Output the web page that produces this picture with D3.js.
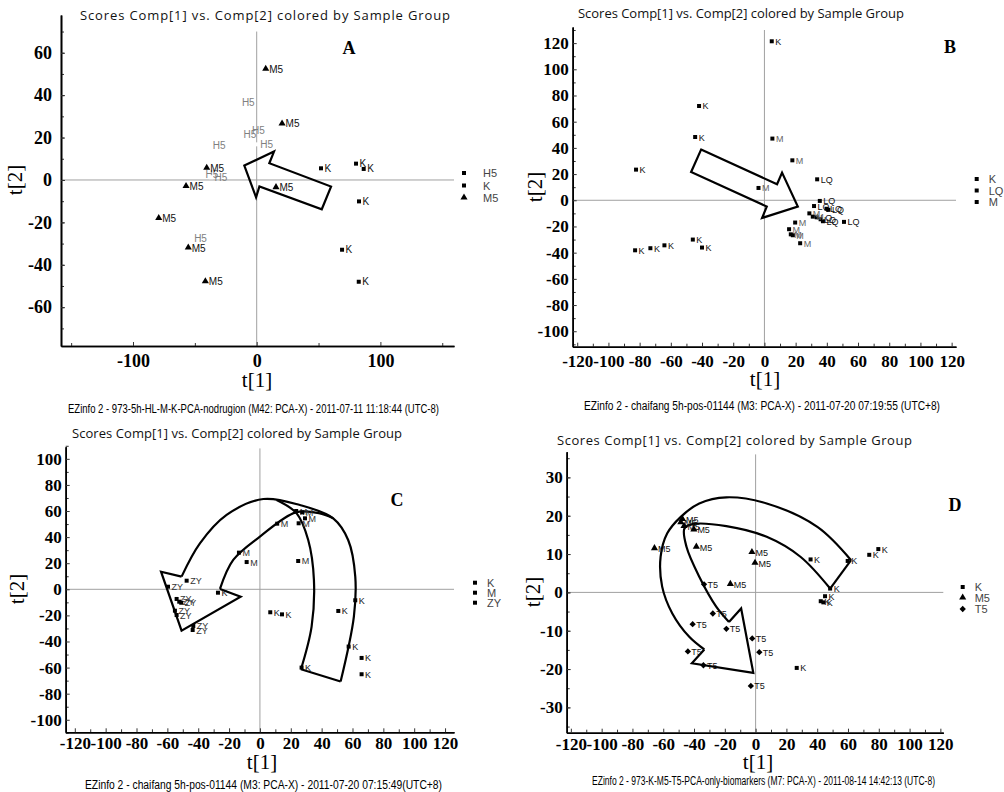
<!DOCTYPE html>
<html>
<head>
<meta charset="utf-8">
<script src="https://cdn.jsdelivr.net/npm/d3@7"></script>
<style>
body { margin: 0; background: #fff; }
svg { display: block; }
</style>
</head>
<body>
<div id="chart"></div>
<script>
// ---- datos (t[1], t[2]) ----
var aH5 = [[-14.8,36.5],[-6.7,23.1],[-13.5,21.4],[-38.3,16.4],[0,16.8],[-44.2,2.8],[-37,1.3],[-53.4,-27.5]],
    aK  = [[52,5.5],[80.3,7.7],[86.5,5.2],[82.7,-10.1],[69,-32.9],[82.5,-48]],
    aM5 = [[7.3,52.2],[20.5,26.4],[-40.4,5.5],[-57.1,-3.1],[15.6,-3.6],[-79.2,-18.2],[-55.3,-32.1],[-41.5,-48]];

var bK  = [[4.7,121.4],[-41.9,72],[-44.4,48.3],[-82.3,23.4],[-82.9,-38.2],[-73.1,-36.6],[-64.1,-34.4],[-45.9,-30],[-40,-36.1]],
    bLQ = [[33.8,16],[35.5,-0.5],[31.8,-4.4],[39.8,-6.5],[41,-7.3],[33.5,-13],[36,-14.5],[37.5,-16],[51,-16.5]],
    bM  = [[5.1,47.1],[17.9,30.5],[-3.8,9.4],[28.8,-10],[31,-12.5],[19.7,-17],[15.8,-22.1],[16.9,-26],[18.2,-26.7],[22.9,-32.8]];

var cK  = [[-27.2,-2.6],[6.7,-17.6],[14.3,-19.2],[50.8,-16.6],[61.8,-8.4],[57.5,-43.9],[65.9,-52.6],[65.9,-65.1],[27,-60]],
    cM  = [[23.5,60],[27.4,59],[29.2,54.4],[25.1,50.6],[11.2,50.3],[-13.6,28.1],[-8.6,20.9],[24.8,21.7]],
    cZY = [[-47.5,6.6],[-59.6,2],[-54,-7.4],[-52.3,-9.5],[-51,-10.3],[-55.1,-16.4],[-54,-19.7],[-43.2,-28.1],[-43.6,-31.2]];

var dK  = [[35.7,8.6],[59.8,8.2],[73.8,9.8],[79.7,11.3],[48.4,1],[45.1,-1],[42.3,-2.3],[44,-2.6],[26.7,-19.7]],
    dM5 = [[-47.5,19],[-48.6,18.2],[-46.5,17.2],[-40.1,16.3],[-65.7,11.4],[-38.5,11.8],[-2.4,10.4],[-0.4,7.6],[-16.4,2.1]],
    dT5 = [[-33.5,2.1],[-27.8,-5.5],[-40.9,-8.3],[-19,-9.5],[-2.2,-12],[2.4,-15.6],[-44,-15.4],[-33.9,-19],[-3.1,-24.4]];

// flechas dibujadas sobre los graficos (en unidades de los ejes)
var arrowA = [[-10,6.8],[14,13.4],[10.2,7.9],[60.1,-3.1],[52.6,-13.8],[2.2,-3.1],[-0.5,-8.2]],
    arrowB = [[-40.6,38.7],[8.1,12.2],[11.3,21.1],[21.4,-4.8],[-1.5,-13.5],[1.5,-4.8],[-47,21.6]];
var arrowC = {
    curves: [
        [[-50.8,9.7],[-38.9,35.2],[-21.6,57],[2.2,69.2],[25.9,64.6],[47.5,54.4],[57.2,37.8],[61.8,9.7],[60.9,-20.9],[52.3,-70.7]],
        [[-25.9,0.3],[-17.3,22.5],[0,40.4],[23.3,59],[38.9,58.2],[47.5,54.4]],
        [[10.8,68.5],[23.8,58.2],[31.3,37.8],[35,7.2],[33.5,-28.6],[26.6,-61.3]]
    ],
    lines: [
        [[26.6,-61.3],[52.3,-70.7]],
        [[-25.9,0.3],[-12.5,-5.6],[-50.8,-31.7],[-64.1,13.5],[-50.8,9.7]]
    ]
};
var arrowD = {
    curves: [
        [[62,8.4],[40.1,17.1],[7.2,23.2],[-19,24.8],[-36.6,23.2],[-48.6,19.7],[-57.4,15.4],[-61.7,9.3],[-60.7,1.5],[-54.1,-5.5],[-43.1,-11.6],[-33.3,-14.9]],
        [[48.4,1],[29.1,9.3],[7.2,14.5],[-19,17.3],[-40.9,17.8],[-46.2,16.7],[-44.9,11.9],[-36.6,4.1],[-25.6,-3.7],[-17.3,-7.7]]
    ],
    lines: [
        [[62,8.4],[48.4,1]],
        [[-17.3,-7.7],[-9.4,-4.2],[-1.5,-21],[-41.4,-18.5],[-33.3,-14.9]]
    ]
};

// etiquetas de ejes
var aXTicks = [-100, 0, 100],
    aYTicks = [-60, -40, -20, 0, 20, 40, 60],
    bXTicks = [-120, -100, -80, -60, -40, -20, 0, 20, 40, 60, 80, 100, 120],
    bYTicks = [-100, -80, -60, -40, -20, 0, 20, 40, 60, 80, 100, 120],
    cYTicks = [-100, -80, -60, -40, -20, 0, 20, 40, 60, 80, 100],
    dYTicks = [-30, -20, -10, 0, 10, 20, 30];

var titulo = "Scores Comp[1] vs. Comp[2] colored by Sample Group";
var pies = [
    "EZinfo 2 - 973-5h-HL-M-K-PCA-nodrugion (M42: PCA-X) - 2011-07-11 11:18:44 (UTC-8)",
    "EZinfo 2 - chaifang 5h-pos-01144 (M3: PCA-X) - 2011-07-20 07:19:55 (UTC+8)",
    "EZinfo 2 - chaifang 5h-pos-01144 (M3: PCA-X) - 2011-07-20 07:15:49(UTC+8)",
    "EZinfo 2 - 973-K-M5-T5-PCA-only-biomarkers (M7: PCA-X) - 2011-08-14 14:42:13 (UTC-8)"
];

var svg = d3.select("#chart").append("svg")
    .attr("width", 1004).attr("height", 792);

var serif = "'Liberation Serif', 'Times New Roman', serif",
    sans = "'Liberation Sans', Arial, sans-serif";

function marcador(g, tipo, px, py, fill) {
    if (tipo === "tri") {
        g.append("path").attr("d", d3.symbol(d3.symbolTriangle, 22)())
         .attr("transform", "translate(" + px + "," + (py - 0.5) + ")").attr("fill", fill);
    } else if (tipo === "dia") {
        g.append("path").attr("d", d3.symbol(d3.symbolSquare, 20)())
         .attr("transform", "translate(" + px + "," + py + ") rotate(45)").attr("fill", fill);
    } else {
        g.append("path").attr("d", d3.symbol(d3.symbolSquare, 16)())
         .attr("transform", "translate(" + px + "," + py + ")").attr("fill", fill);
    }
}

function panel(p) {
    var x = d3.scaleLinear().domain(p.xDom).range([p.left, p.right]),
        y = d3.scaleLinear().domain(p.yDom).range([p.bottom, p.top]);
    var g = svg.append("g");

    // lineas del cero
    g.append("line").attr("x1", p.left).attr("x2", p.right)
     .attr("y1", y(0)).attr("y2", y(0)).attr("stroke", "#a0a0a0").attr("stroke-width", 1);
    g.append("line").attr("x1", x(0)).attr("x2", x(0))
     .attr("y1", y(p.vTop)).attr("y2", p.bottom).attr("stroke", "#a0a0a0").attr("stroke-width", 1);

    // ejes: menores sin etiqueta y principales con etiqueta
    g.append("g").attr("transform", "translate(0," + p.bottom + ")")
     .call(d3.axisBottom(x).tickValues(p.xMinor).tickSize(-3).tickSizeOuter(0).tickFormat(""));
    g.append("g").attr("transform", "translate(" + p.left + ",0)")
     .call(d3.axisLeft(y).tickValues(p.yMinor).tickSize(-3).tickSizeOuter(0).tickFormat(""));
    var ax = g.append("g").attr("transform", "translate(0," + p.bottom + ")")
     .call(d3.axisBottom(x).tickValues(p.xTicks).tickSize(-4).tickSizeOuter(0).tickPadding(p.xPad));
    var ay = g.append("g").attr("transform", "translate(" + p.left + ",0)")
     .call(d3.axisLeft(y).tickValues(p.yTicks).tickSize(-4).tickSizeOuter(0).tickPadding(p.yPad));
    g.selectAll(".domain").attr("stroke", "#000").attr("stroke-width", 1.6);
    g.selectAll(".tick line").attr("stroke", "#333");
    [ax, ay].forEach(function (a) {
        a.selectAll("text").style("font-family", serif).style("font-weight", "bold")
         .style("font-size", p.tickFont + "px").attr("fill", "#000")
         .text(function (d) { return d < 0 ? "-" + (-d) : d; });
    });

    // flechas
    var lin = d3.line().x(function (d) { return x(d[0]); }).y(function (d) { return y(d[1]); });
    if (p.poly) {
        g.append("path").attr("d", lin.curve(d3.curveLinearClosed)(p.poly))
         .attr("fill", "none").attr("stroke", "#000").attr("stroke-width", 2.2).attr("stroke-linejoin", "miter");
    }
    if (p.curved) {
        p.curved.curves.forEach(function (c) {
            g.append("path").attr("d", lin.curve(d3.curveCatmullRom)(c))
             .attr("fill", "none").attr("stroke", "#000").attr("stroke-width", 2.2);
        });
        p.curved.lines.forEach(function (c) {
            g.append("path").attr("d", lin.curve(d3.curveLinear)(c))
             .attr("fill", "none").attr("stroke", "#000").attr("stroke-width", 2.2);
        });
    }

    // puntos con su etiqueta
    p.series.forEach(function (s) {
        s.data.forEach(function (d) {
            var px = x(d[0]), py = y(d[1]);
            marcador(g, s.sym, px, py, s.fill || "#000");
            g.append("text").attr("x", px + 3.5).attr("y", py + 3.5)
             .attr("font-family", sans).attr("font-size", p.ptFont)
             .attr("fill", s.color || "#111").text(s.name);
        });
    });

    // leyenda
    p.series.forEach(function (s, i) {
        var ly = p.legY + i * p.legStep;
        marcador(g, s.sym, p.legX, ly, "#000");
        g.append("text").attr("x", p.legX + p.legGap).attr("y", ly + 4)
         .attr("font-family", sans).attr("font-size", 11).attr("fill", "#444").text(s.name);
    });

    // textos
    g.append("text").attr("x", p.title[0]).attr("y", p.title[1])
     .attr("font-family", "'Open Sans', sans-serif").attr("font-size", 13)
     .attr("textLength", p.title[2]).attr("lengthAdjust", "spacing")
     .attr("fill", "#111").text(titulo);
    g.append("text").attr("x", p.foot[0]).attr("y", p.foot[1])
     .attr("font-family", "'Liberation Sans Narrow', " + sans).attr("font-size", 12)
     .attr("textLength", p.foot[2]).attr("lengthAdjust", "spacingAndGlyphs")
     .attr("fill", "#000").text(p.pie);
    g.append("text").attr("x", p.letter[0]).attr("y", p.letter[1]).attr("text-anchor", "middle")
     .attr("font-family", serif).attr("font-weight", "bold").attr("font-size", 18).text(p.tag);
    g.append("text").attr("x", p.xlab[0]).attr("y", p.xlab[1]).attr("text-anchor", "middle")
     .attr("font-family", serif).attr("font-size", 21).text("t[1]");
    g.append("text").attr("transform", "translate(" + p.ylab[0] + "," + p.ylab[1] + ") rotate(-90)")
     .attr("text-anchor", "middle").attr("font-family", serif).attr("font-size", 21).text("t[2]");
}

panel({
    tag: "A", pie: pies[0],
    left: 61, right: 454, top: 15, bottom: 346, vTop: 70,
    xDom: [-158.2, 159.5], yDom: [-78.3, 77.8],
    xTicks: aXTicks, xMinor: [-150, -50, 50, 150], yTicks: aYTicks, yMinor: d3.range(-70, 71, 10),
    xPad: 8, yPad: 9, ptFont: 10, tickFont: 18,
    poly: arrowA,
    series: [
        {name: "H5", data: aH5, sym: "sq", fill: "#ffffff", color: "#808080"},
        {name: "K", data: aK, sym: "sq"},
        {name: "M5", data: aM5, sym: "tri"}
    ],
    legX: 464, legY: 173, legStep: 12.5, legGap: 19,
    title: [80, 20, 370], foot: [68, 413, 371], letter: [349, 54], xlab: [257, 387], ylab: [22, 180]
});

panel({
    tag: "B", pie: pies[1],
    left: 572.7, right: 956, top: 27, bottom: 346.7, vTop: 130,
    xDom: [-122.9, 122.8], yDom: [-111.8, 132.3],
    xTicks: bXTicks, xMinor: d3.range(-110, 111, 20), yTicks: bYTicks, yMinor: d3.range(-110, 131, 20),
    xPad: 8, yPad: 4, ptFont: 9, tickFont: 17,
    poly: arrowB,
    series: [
        {name: "K", data: bK, sym: "sq"},
        {name: "LQ", data: bLQ, sym: "sq"},
        {name: "M", data: bM, sym: "sq", color: "#666"}
    ],
    legX: 976.7, legY: 179, legStep: 11.5, legGap: 12,
    title: [578, 18, 326], foot: [584, 410, 356], letter: [950, 53], xlab: [765, 386], ylab: [542, 187]
});

panel({
    tag: "C", pie: pies[2],
    left: 65.7, right: 454, top: 446.7, bottom: 732.3, vTop: 108,
    xDom: [-125.9, 125.8], yDom: [-109.6, 109.3],
    xTicks: bXTicks, xMinor: d3.range(-110, 111, 20), yTicks: cYTicks, yMinor: d3.range(-110, 111, 20),
    xPad: 5, yPad: 4, ptFont: 9, tickFont: 17,
    curved: arrowC,
    series: [
        {name: "K", data: cK, sym: "sq"},
        {name: "M", data: cM, sym: "sq", color: "#333"},
        {name: "ZY", data: cZY, sym: "sq", color: "#333"}
    ],
    legX: 475, legY: 582.7, legStep: 10, legGap: 12,
    title: [72, 438, 330], foot: [85, 789, 357], letter: [397, 506], xlab: [262, 769], ylab: [24, 589]
});

panel({
    tag: "D", pie: pies[3],
    left: 566.7, right: 943.3, top: 451.7, bottom: 732.7, vTop: 36,
    xDom: [-122.7, 121.9], yDom: [-36.6, 36.7],
    xTicks: bXTicks, xMinor: d3.range(-110, 111, 20), yTicks: dYTicks, yMinor: d3.range(-35, 36, 5),
    xPad: 5, yPad: 4, ptFont: 9, tickFont: 17,
    curved: arrowD,
    series: [
        {name: "K", data: dK, sym: "sq"},
        {name: "M5", data: dM5, sym: "tri"},
        {name: "T5", data: dT5, sym: "dia"}
    ],
    legX: 962.7, legY: 587, legStep: 11, legGap: 12,
    title: [557, 445, 355], foot: [592, 785, 343], letter: [955, 511], xlab: [758, 769], ylab: [540, 592]
});
</script>
</body>
</html>
